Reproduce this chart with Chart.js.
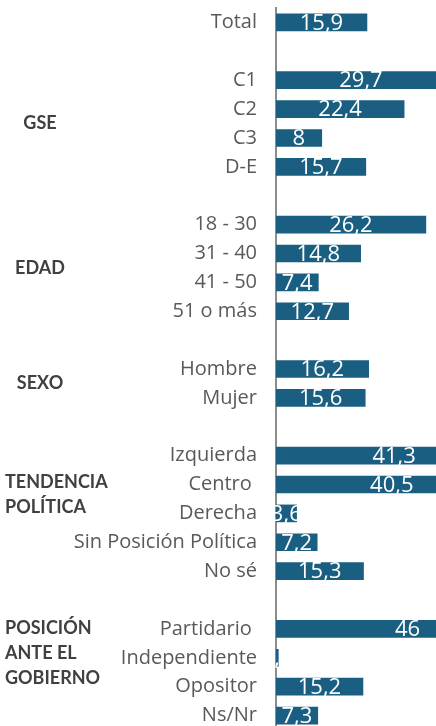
<!DOCTYPE html>
<html>
<head>
<meta charset="utf-8">
<script src="https://cdn.jsdelivr.net/npm/chart.js@4"></script>
<style>
    html, body { margin: 0; padding: 0; background: #fff; overflow: hidden; }
    #wrap { position: relative; width: 562px; height: 732px; }
</style>
</head>
<body>
<div id="wrap"><canvas id="chart"></canvas></div>
<script>
// rows, blank strings are the gaps between groups
const categories = [
    "Total", "",
    "C1", "C2", "C3", "D-E", "",
    "18 - 30", "31 - 40", "41 - 50", "51 o más", "",
    "Hombre", "Mujer", "",
    "Izquierda", "Centro ", "Derecha", "Sin Posición Política", "No sé", "",
    "Partidario ", "Independiente", "Opositor", "Ns/Nr",
];
const values = [
    15.9, null,
    29.7, 22.4, 8, 15.7, null,
    26.2, 14.8, 7.4, 12.7, null,
    16.2, 15.6, null,
    41.3, 40.5, 3.6, 7.2, 15.3, null,
    46, 0.4, 15.2, 7.3,
];

// group titles on the left, with first and last row of each group
const groupTitles = [["GSE"], ["EDAD"], ["SEXO"], ["TENDENCIA", "POLÍTICA"], ["POSICIÓN", "ANTE EL", "GOBIERNO"]];
const groupFirst = ["C1", "18 - 30", "Hombre", "Izquierda", "Partidario "];
const groupLast = ["D-E", "51 o más", "Mujer", "No sé", "Ns/Nr"];

const BAR_COLOR = "#1a5f81";

const fmt = v => String(v).replace(".", ",");

const valueLabels = {
    id: "valueLabels",
    afterDatasetsDraw(chart) {
        const ctx = chart.ctx;
        const meta = chart.getDatasetMeta(0);
        ctx.save();
        ctx.fillStyle = "#ffffff";
        ctx.font = "22px 'Open Sans', sans-serif";
        ctx.textAlign = "center";
        ctx.textBaseline = "middle";
        meta.data.forEach((bar, i) => {
            const v = values[i];
            if (v === null) return;
            ctx.fillText(fmt(v), (bar.x + bar.base) / 2, bar.y + 1);
        });
        ctx.restore();
    },
};

const groupLabels = {
    id: "groupLabels",
    afterDraw(chart) {
        const ctx = chart.ctx;
        const y = chart.scales.y;
        ctx.save();
        ctx.fillStyle = "#404040";
        ctx.font = "bold 18px Lato, sans-serif";
        ctx.textBaseline = "middle";
        groupTitles.forEach((lines, g) => {
            const y0 = y.getPixelForValue(categories.indexOf(groupFirst[g]));
            const y1 = y.getPixelForValue(categories.indexOf(groupLast[g]));
            const lineH = 25;
            let mid = (y0 + y1) / 2;
            if (lines.length > 1) mid -= 19;
            const start = mid - (lines.length - 1) * lineH / 2;
            lines.forEach((t, k) => {
                if (lines.length > 1) {
                    ctx.textAlign = "left";
                    ctx.fillText(t, 5, start + k * lineH);
                } else {
                    ctx.textAlign = "center";
                    ctx.fillText(t, 40, start + k * lineH);
                }
            });
        });
        ctx.restore();
    },
};

new Chart(document.getElementById("chart"), {
    type: "bar",
    data: {
        labels: categories,
        datasets: [{
            data: values,
            backgroundColor: BAR_COLOR,
            borderWidth: 0,
            barThickness: 17,
        }],
    },
    options: {
        indexAxis: "y",
        responsive: true,
        maintainAspectRatio: false,
        animation: false,
        layout: { padding: { top: 8, bottom: 2, left: 0, right: 0 } },
        plugins: {
            legend: { display: false },
            tooltip: { enabled: false },
        },
        scales: {
            x: {
                display: false,
                min: 0,
                max: 50,
            },
            y: {
                grid: { display: false, drawTicks: false },
                border: { display: true, color: "#8c8c8c", width: 2 },
                ticks: {
                    color: "#595959",
                    font: { family: "'Open Sans', sans-serif", size: 20 },
                    padding: 19,
                    autoSkip: false,
                },
                afterFit: s => {
                    s.width = 276;
                    s.paddingTop = 0;
                    s.paddingBottom = 0;
                },
            },
        },
    },
    plugins: [valueLabels, groupLabels],
});
</script>
</body>
</html>
